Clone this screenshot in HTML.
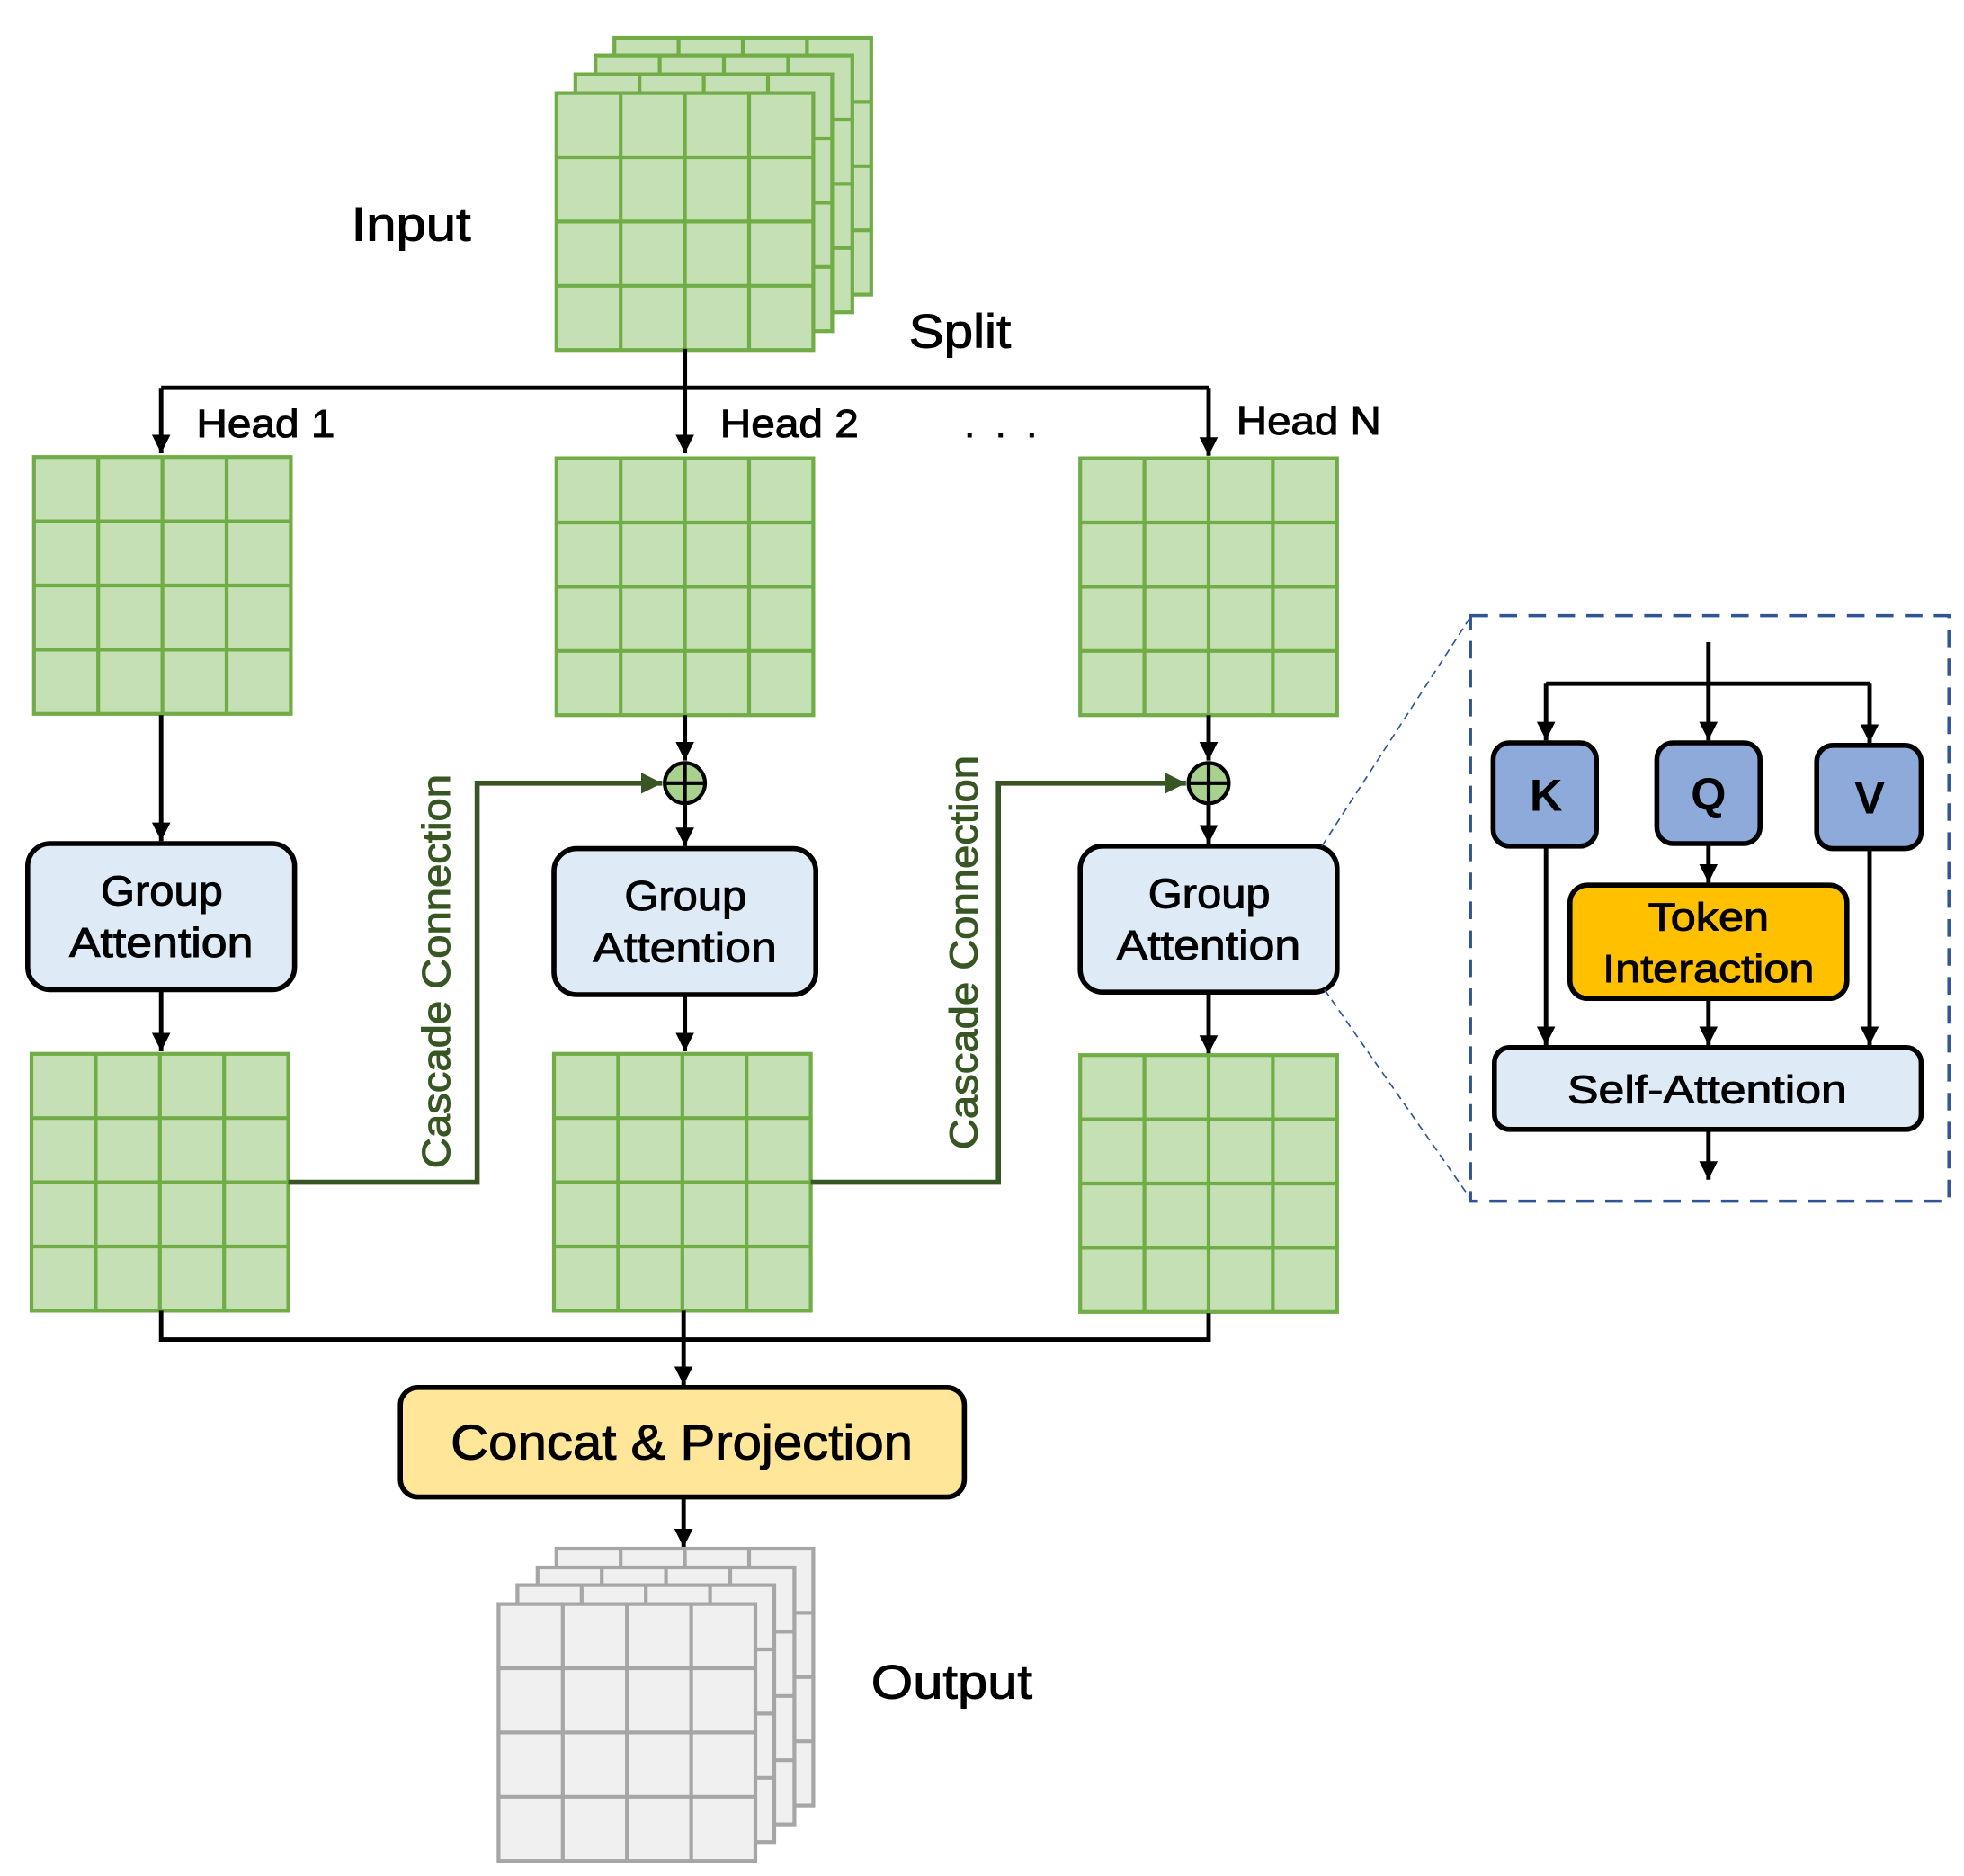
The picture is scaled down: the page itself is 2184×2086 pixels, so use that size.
<!DOCTYPE html>
<html><head><meta charset="utf-8">
<style>
html,body{margin:0;padding:0;background:#fff;}
svg{display:block;}
text{font-family:"Liberation Sans",sans-serif;}
.t{stroke:#000;stroke-width:0.7;}
.tg{stroke:#375623;stroke-width:0.7;}
</style></head>
<body>
<svg width="2184" height="2086" viewBox="0 0 1560 1490" xmlns="http://www.w3.org/2000/svg">
<defs>
  <g id="gg">
    <rect x="0" y="0" width="204" height="204" fill="#c5e0b4" stroke="#70ad47" stroke-width="3"/>
    <path d="M51 0V204M102 0V204M153 0V204M0 51H204M0 102H204M0 153H204" stroke="#70ad47" stroke-width="3" fill="none"/>
  </g>
  <g id="gr">
    <rect x="0" y="0" width="204" height="204" fill="#f0f0f0" stroke="#a6a6a6" stroke-width="3"/>
    <path d="M51 0V204M102 0V204M153 0V204M0 51H204M0 102H204M0 153H204" stroke="#a6a6a6" stroke-width="3" fill="none"/>
  </g>
  <marker id="ab" viewBox="0 0 10 10" refX="10" refY="5" markerWidth="4.2" markerHeight="4.2" orient="auto" markerUnits="strokeWidth"><path d="M0 0L10 5L0 10z" fill="#000"/></marker>
  <marker id="ag" viewBox="0 0 10 10" refX="10" refY="5" markerWidth="4.2" markerHeight="4.2" orient="auto" markerUnits="strokeWidth"><path d="M0 0L10 5L0 10z" fill="#375623"/></marker>
</defs>

<use href="#gg" x="488" y="30"/>
<use href="#gg" x="473" y="44"/>
<use href="#gg" x="457" y="59"/>
<use href="#gg" x="442" y="74"/>
<text class="t" x="279" y="191" font-size="38" textLength="95" lengthAdjust="spacingAndGlyphs">Input</text>
<text class="t" x="722" y="276" font-size="38" textLength="81" lengthAdjust="spacingAndGlyphs">Split</text>

<g stroke="#000" stroke-width="3.5" fill="none">
  <path d="M544 277V360" marker-end="url(#ab)"/>
  <path d="M128 308H960"/>
  <path d="M128 308V360" marker-end="url(#ab)"/>
  <path d="M960 308V362" marker-end="url(#ab)"/>
</g>
<text class="t" x="156" y="347" font-size="31" textLength="110" lengthAdjust="spacingAndGlyphs">Head 1</text>
<text class="t" x="572" y="347" font-size="31" textLength="110" lengthAdjust="spacingAndGlyphs">Head 2</text>
<text class="t" x="766" y="347" font-size="30" letter-spacing="4">. . .</text>
<text class="t" x="982" y="345" font-size="31" textLength="115" lengthAdjust="spacingAndGlyphs">Head N</text>

<use href="#gg" x="27" y="363"/>
<use href="#gg" x="442" y="364"/>
<use href="#gg" x="858" y="364"/>

<g stroke="#000" stroke-width="3.5" fill="none">
  <path d="M128 568V668" marker-end="url(#ab)"/>
  <path d="M544 568V604" marker-end="url(#ab)"/>
  <path d="M544 638V672" marker-end="url(#ab)"/>
  <path d="M960 568V604" marker-end="url(#ab)"/>
  <path d="M960 638V670" marker-end="url(#ab)"/>
</g>
<g stroke="#000" stroke-width="3" fill="#a9d18e">
  <circle cx="544" cy="622" r="16"/>
  <circle cx="960" cy="622" r="16"/>
</g>
<path d="M528 622H560M544 606V638M944 622H976M960 606V638" stroke="#000" stroke-width="3"/>

<g stroke="#000" stroke-width="4" fill="#deebf7">
  <rect x="22" y="670" width="212" height="116" rx="18"/>
  <rect x="440" y="674" width="208" height="116" rx="18"/>
  <rect x="858" y="672" width="204" height="116" rx="18"/>
</g>
<g font-size="33" class="t">
  <text x="80" y="719" textLength="97" lengthAdjust="spacingAndGlyphs">Group</text><text x="55" y="760" textLength="146" lengthAdjust="spacingAndGlyphs">Attention</text>
  <text x="496" y="723" textLength="97" lengthAdjust="spacingAndGlyphs">Group</text><text x="471" y="764" textLength="146" lengthAdjust="spacingAndGlyphs">Attention</text>
  <text x="912" y="721" textLength="97" lengthAdjust="spacingAndGlyphs">Group</text><text x="887" y="762" textLength="146" lengthAdjust="spacingAndGlyphs">Attention</text>
</g>

<g stroke="#000" stroke-width="3.5" fill="none">
  <path d="M128 786V835" marker-end="url(#ab)"/>
  <path d="M544 790V835" marker-end="url(#ab)"/>
  <path d="M960 788V837" marker-end="url(#ab)"/>
</g>

<use href="#gg" x="25" y="837"/>
<use href="#gg" x="440" y="837"/>
<use href="#gg" x="858" y="838"/>

<g stroke="#375623" stroke-width="4" fill="none">
  <path d="M229 939H379V622H526" marker-end="url(#ag)"/>
  <path d="M644 939H793V622H942" marker-end="url(#ag)"/>
</g>
<text class="tg" transform="translate(357 928) rotate(-90)" font-size="31" fill="#375623" textLength="313" lengthAdjust="spacingAndGlyphs">Cascade Connection</text>
<text class="tg" transform="translate(776 913) rotate(-90)" font-size="31" fill="#375623" textLength="313" lengthAdjust="spacingAndGlyphs">Cascade Connection</text>

<g stroke="#000" stroke-width="3.5" fill="none">
  <path d="M128 1041V1064H960V1043"/>
  <path d="M543 1041V1100" marker-end="url(#ab)"/>
  <path d="M543 1189V1229" marker-end="url(#ab)"/>
</g>
<rect x="318" y="1102" width="448" height="87" rx="14" fill="#ffe699" stroke="#000" stroke-width="4"/>
<text class="t" x="358" y="1159" font-size="39" textLength="367" lengthAdjust="spacingAndGlyphs">Concat &amp; Projection</text>

<use href="#gr" x="442" y="1230"/>
<use href="#gr" x="427" y="1245"/>
<use href="#gr" x="411" y="1259"/>
<use href="#gr" x="396" y="1274"/>
<text class="t" x="692" y="1349" font-size="38" textLength="128" lengthAdjust="spacingAndGlyphs">Output</text>

<g stroke="#2f5597" stroke-width="1.2" stroke-dasharray="6 4" fill="none">
  <path d="M1050 672L1168 490"/>
  <path d="M1052 786L1168 952"/>
</g>
<rect x="1168" y="489" width="380" height="465" fill="none" stroke="#2f5597" stroke-width="2.5" stroke-dasharray="14 9"/>

<g stroke="#000" stroke-width="3.5" fill="none">
  <path d="M1357 510V588" marker-end="url(#ab)"/>
  <path d="M1228 543H1485"/>
  <path d="M1228 543V588" marker-end="url(#ab)"/>
  <path d="M1485 543V590" marker-end="url(#ab)"/>
  <path d="M1357 670V701" marker-end="url(#ab)"/>
  <path d="M1357 793V830" marker-end="url(#ab)"/>
  <path d="M1228 672V830" marker-end="url(#ab)"/>
  <path d="M1485 674V830" marker-end="url(#ab)"/>
  <path d="M1357 897V937" marker-end="url(#ab)"/>
</g>
<g stroke="#000" stroke-width="4" fill="#8eaadb">
  <rect x="1186" y="590" width="82" height="82" rx="13"/>
  <rect x="1316" y="590" width="82" height="80" rx="13"/>
  <rect x="1443" y="592" width="83" height="82" rx="13"/>
</g>
<g font-size="36" text-anchor="middle" font-weight="bold">
  <text x="1228" y="644">K</text>
  <text x="1357" y="643">Q</text>
  <text x="1485" y="646">V</text>
</g>
<rect x="1247" y="703" width="220" height="90" rx="14" fill="#ffc000" stroke="#000" stroke-width="4"/>
<text class="t" x="1309" y="739" font-size="31" textLength="96" lengthAdjust="spacingAndGlyphs">Token</text>
<text class="t" x="1273" y="780" font-size="31" textLength="168" lengthAdjust="spacingAndGlyphs">Interaction</text>
<rect x="1187" y="832" width="339" height="65" rx="12" fill="#deebf7" stroke="#000" stroke-width="4"/>
<text class="t" x="1245" y="876" font-size="31" textLength="222" lengthAdjust="spacingAndGlyphs">Self-Attention</text>
</svg>
</body></html>
